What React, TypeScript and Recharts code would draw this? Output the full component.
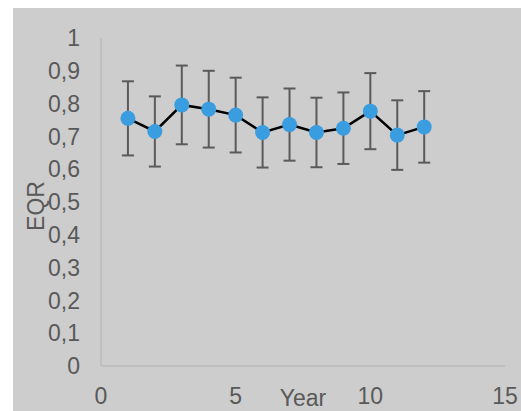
import { ErrorBar, Line, LineChart, XAxis, YAxis } from "recharts";

const years = [1, 2, 3, 4, 5, 6, 7, 8, 9, 10, 11, 12];
const eqr = [0.755, 0.715, 0.796, 0.783, 0.765, 0.712, 0.736, 0.712, 0.725, 0.777, 0.704, 0.729];
const eqrErr = [0.113, 0.107, 0.12, 0.117, 0.114, 0.107, 0.11, 0.106, 0.109, 0.116, 0.106, 0.109];
const xTicks = [0, 5, 10, 15];
const yTicks = [0, 0.1, 0.2, 0.3, 0.4, 0.5, 0.6, 0.7, 0.8, 0.9, 1];

const data = years.map((year, i) => ({ year, eqr: eqr[i], err: eqrErr[i] }));

const font = "'Liberation Sans', Arial, sans-serif";
const textGrey = "#595959";
const tickStyle = { fill: textGrey, fontSize: 23, fontFamily: font };

function EqrLabel({ viewBox }: any) {
  const x = viewBox.x + 23;
  const y = viewBox.y + viewBox.height / 2 + 4;
  return (
    <text x={x} y={y} transform={`rotate(-90, ${x}, ${y})`} textAnchor="middle" dominantBaseline="central" fill={textGrey} fontSize={23} fontFamily={font}>
      EQR
    </text>
  );
}

export default function App() {
  return (
    <div style={{ position: "absolute", left: 13, top: 8, width: 508, height: 403, background: "#cdcdcd" }}>
      <LineChart width={508} height={403} data={data} margin={{ top: 30, right: 16, bottom: 0, left: 0 }}>
        <XAxis
          dataKey="year"
          type="number"
          domain={[0, 15]}
          ticks={xTicks}
          height={45}
          tickLine={false}
          tickMargin={16}
          axisLine={{ stroke: "#bfbfbf", strokeWidth: 2 }}
          tick={tickStyle}
          label={{ value: "Year", position: "insideBottom", offset: 5, fill: textGrey, fontSize: 23, fontFamily: font }}
        />
        <YAxis
          type="number"
          domain={[0, 1]}
          ticks={yTicks}
          width={88}
          tickLine={false}
          tickMargin={15}
          axisLine={{ stroke: "#bfbfbf", strokeWidth: 2 }}
          tick={tickStyle}
          tickFormatter={(v: number) => String(v).replace(".", ",")}
          label={<EqrLabel />}
        />
        <Line
          dataKey="eqr"
          stroke="#000000"
          strokeWidth={2.5}
          isAnimationActive={false}
          dot={{ r: 7.5, fill: "#3a9de0", stroke: "none", fillOpacity: 1 }}
          activeDot={false}
        >
          <ErrorBar dataKey="err" direction="y" width={6} stroke="#5a5a5a" strokeWidth={2} isAnimationActive={false} />
        </Line>
      </LineChart>
    </div>
  );
}
